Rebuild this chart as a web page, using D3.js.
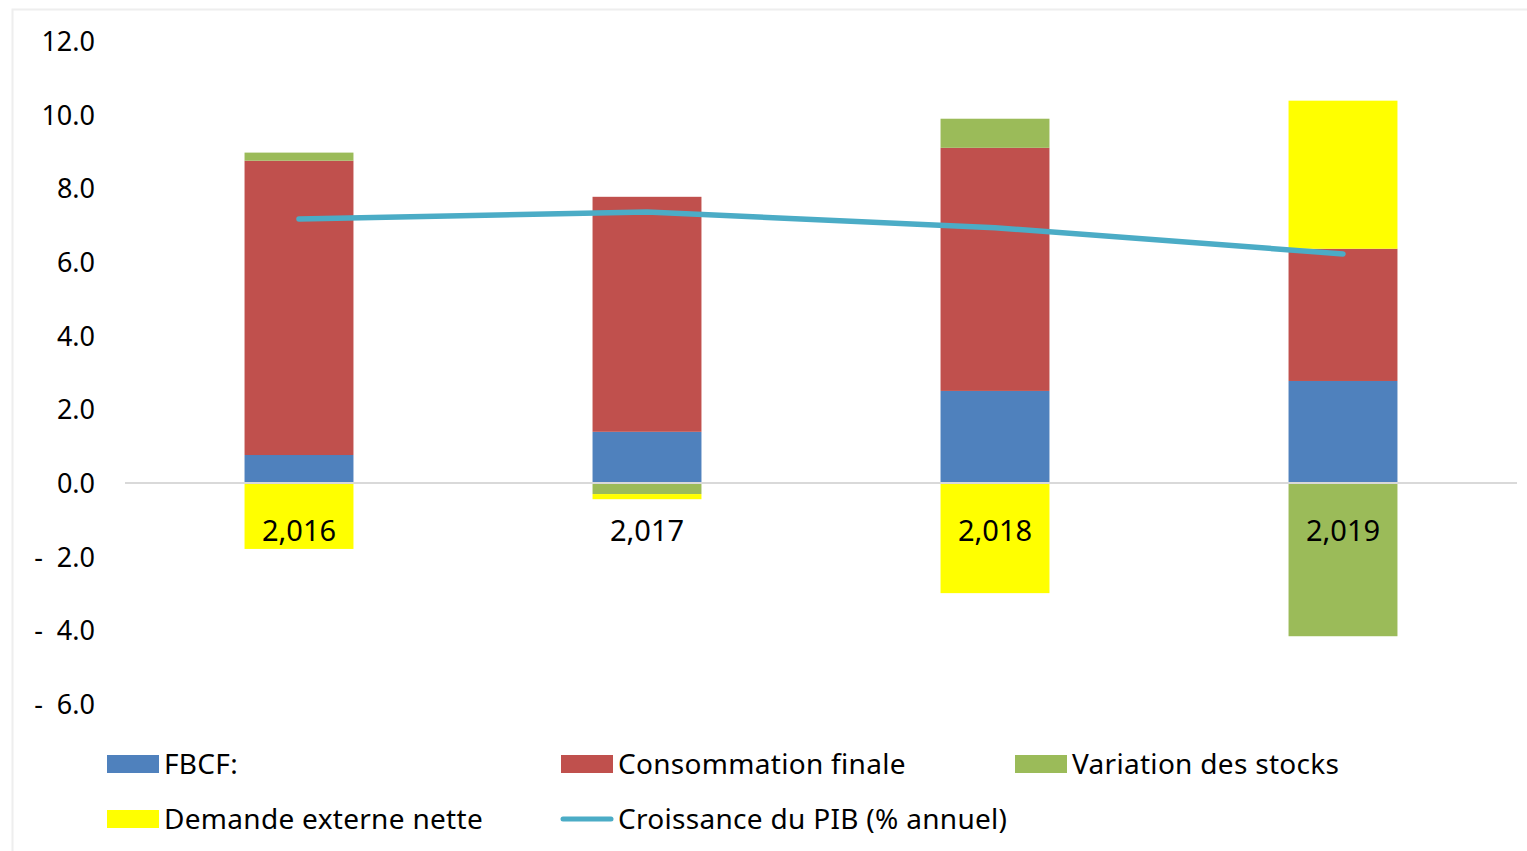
<!DOCTYPE html>
<html>
<head>
<meta charset="utf-8">
<script src="https://cdn.jsdelivr.net/npm/d3@7"></script>
<style>
  body { margin: 0; background: #fff; }
  svg text { font-family: "Noto Sans", sans-serif; fill: #000; }
</style>
</head>
<body>
<svg id="chart" width="1527" height="851"></svg>
<script>
// data
const years = ["2,016", "2,017", "2,018", "2,019"];
const fbcf = [0.76, 1.39, 2.50, 2.77];
const consommation = [7.99, 6.38, 6.60, 3.59];
const stocks = [0.22, -0.30, 0.79, -4.16];
const demandeExterne = [-1.79, -0.14, -2.99, 4.02];
const croissance = [7.17, 7.36, 6.93, 6.22];
const yTicks = [12, 10, 8, 6, 4, 2, 0, -2, -4, -6];

const series = [
  { name: "FBCF:", values: fbcf, color: "#4f81bd" },
  { name: "Consommation finale", values: consommation, color: "#c0504d" },
  { name: "Variation des stocks", values: stocks, color: "#9bbb59" },
  { name: "Demande externe nette", values: demandeExterne, color: "#ffff00" }
];
const lineColor = "#4bacc6";

const svg = d3.select("#chart");

// chart frame
svg.append("rect")
  .attr("x", 12.5).attr("y", 9.5)
  .attr("width", 1530).attr("height", 860)
  .attr("fill", "none").attr("stroke", "#eeeeee").attr("stroke-width", 2);

const x = d3.scaleBand()
  .domain(years)
  .range([125, 1517])
  .paddingInner(0.687)
  .paddingOuter(0.3435);

const y = d3.scaleLinear()
  .domain([-6, 12])
  .range([704, 41]);

// y axis labels (accounting style)
const fmt = v => v < 0 ? "-  " + d3.format(".1f")(-v) : d3.format(".1f")(v);
svg.append("g")
  .attr("transform", "translate(95,0)")
  .call(d3.axisLeft(y).tickValues(yTicks).tickSize(0).tickPadding(0).tickFormat(fmt))
  .call(g => g.select(".domain").remove())
  .call(g => g.selectAll("text")
    .style("font-size", "27px")
    .style("white-space", "pre")
    .attr("dy", "0.35em"));

// stacked bars: positives stack up, negatives stack down
const pos = years.map(() => 0);
const neg = years.map(() => 0);
series.forEach(s => {
  const rows = s.values.map((v, i) => {
    let y0, y1;
    if (v >= 0) { y0 = pos[i]; y1 = pos[i] + v; pos[i] = y1; }
    else { y0 = neg[i]; y1 = neg[i] + v; neg[i] = y1; }
    return { year: years[i], y0, y1 };
  });
  svg.append("g").selectAll("rect")
    .data(rows)
    .join("rect")
    .attr("x", d => x(d.year))
    .attr("width", x.bandwidth())
    .attr("y", d => y(Math.max(d.y0, d.y1)))
    .attr("height", d => Math.abs(y(d.y0) - y(d.y1)))
    .attr("fill", s.color);
});

// zero line
svg.append("line")
  .attr("x1", 125).attr("x2", 1517)
  .attr("y1", y(0)).attr("y2", y(0))
  .attr("stroke", "#d9d9d9").attr("stroke-width", 2);

// category labels next to the zero line
svg.append("g").selectAll("text")
  .data(years)
  .join("text")
  .attr("x", d => x(d) + x.bandwidth() / 2)
  .attr("y", y(0) + 58)
  .attr("text-anchor", "middle")
  .style("font-size", "29px")
  .text(d => d);

// growth line
const line = d3.line()
  .x((d, i) => x(years[i]) + x.bandwidth() / 2)
  .y(d => y(d));
svg.append("path")
  .datum(croissance)
  .attr("d", line)
  .attr("fill", "none")
  .attr("stroke", lineColor)
  .attr("stroke-width", 5.5)
  .attr("stroke-linecap", "round")
  .attr("stroke-linejoin", "round");

// legend
const legendItems = [
  { name: series[0].name, color: series[0].color, type: "rect", x: 107, y: 764 },
  { name: series[1].name, color: series[1].color, type: "rect", x: 561, y: 764 },
  { name: series[2].name, color: series[2].color, type: "rect", x: 1015, y: 764 },
  { name: series[3].name, color: series[3].color, type: "rect", x: 107, y: 819 },
  { name: "Croissance du PIB (% annuel)", color: lineColor, type: "line", x: 561, y: 819 }
];
const lg = svg.append("g").selectAll("g")
  .data(legendItems)
  .join("g")
  .attr("transform", d => `translate(${d.x},${d.y})`);
lg.filter(d => d.type === "rect").append("rect")
  .attr("x", 0).attr("y", -9).attr("width", 52).attr("height", 18)
  .attr("fill", d => d.color);
lg.filter(d => d.type === "line").append("line")
  .attr("x1", 2).attr("x2", 50).attr("y1", 0).attr("y2", 0)
  .attr("stroke", d => d.color).attr("stroke-width", 5).attr("stroke-linecap", "round");
lg.append("text")
  .attr("x", 57).attr("y", 0).attr("dy", "0.35em")
  .style("font-size", "28px")
  .style("letter-spacing", "0.3px")
  .text(d => d.name);
</script>
</body>
</html>
